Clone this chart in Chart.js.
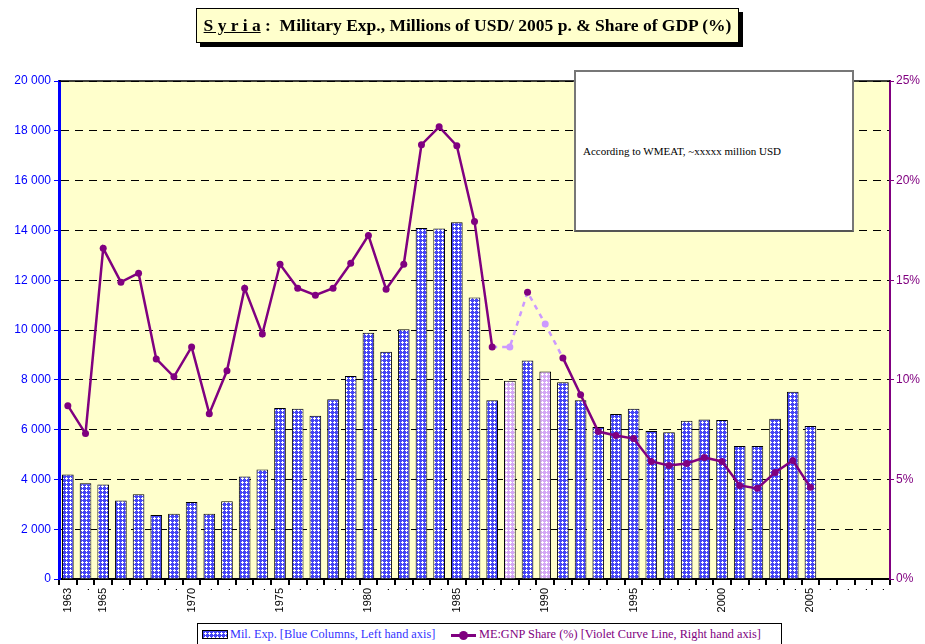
<!DOCTYPE html>
<html>
<head>
<meta charset="utf-8">
<script src="https://cdn.jsdelivr.net/npm/chart.js@4"></script>
<style>
  body { margin: 0; background: #fff; }
  #wrap { position: relative; width: 925px; height: 644px; overflow: hidden; }
  #title {
    position: absolute; left: 196px; top: 8px; width: 541px; height: 33px;
    background: #ffffcc; border: 1px solid #000; box-shadow: 4px 4px 0 #000;
    font: bold 17.5px "Liberation Serif", serif; text-align: center; line-height: 33px;
  }
  #note {
    position: absolute; left: 574px; top: 70px; width: 276px; height: 158px;
    background: #fff; border: 2px solid #777; border-bottom-color: #555;
    font: 11px "Liberation Serif", serif;
  }
  #note span { position: absolute; left: 7px; top: 73px; }
  #legend {
    position: absolute; left: 197px; top: 623px; width: 583px; height: 24px;
    background: #fff; border: 1px solid #000;
    font: 12.3px "Liberation Serif", serif;
  }
  .item { position: absolute; top: 3px; white-space: nowrap; }
  #sw1 { position: absolute; left: 4px; top: 6px; width: 24px; height: 7px; border: 1px solid #000; }
  #sw2 { position: absolute; left: 253px; top: 10px; width: 25px; height: 3px; background: #800080; }
  #sw2 i { position: absolute; left: 8px; top: -3px; width: 9px; height: 9px; border-radius: 50%; background: #800080; }
</style>
</head>
<body>
<div id="wrap">
  <canvas id="chart" width="925" height="644"></canvas>
  <div id="title"><u>S y r i a</u> :&nbsp; Military Exp., Millions of USD/ 2005 p. &amp; Share of GDP (%)</div>
  <div id="note"><span>According to WMEAT, ~xxxxx million USD</span></div>
  <div id="legend">
    <div id="sw1"></div>
    <span class="item" style="left:32px;color:#3333ff">Mil. Exp. [Blue Columns, Left hand axis]</span>
    <div id="sw2"><i></i></div>
    <span class="item" style="left:281px;color:#800080">ME:GNP Share (%) [Violet Curve Line, Right hand axis]</span>
  </div>
</div>
<script>
const years = []
for (let y = 1963; y <= 2009; y++) years.push(y)

const tickLabels = years.map(y => (y === 1963 || y % 5 === 0) && y <= 2005 ? String(y) : '.')

// military expenditure, millions USD (2005 prices)
const milExp = [4200, 3850, 3800, 3150, 3400, 2570, 2620, 3090, 2620, 3120,
  4120, 4400, 6870, 6840, 6560, 7220, 8150, 9890, 9130, 10030,
  14100, 14080, 14330, 11310, 7180, 7960, 8780, 8330, 7900, 7180,
  6100, 6630, 6840, 5940, 5890, 6360, 6410, 6390, 5340, 5340,
  6440, 7520, 6140, null, null, null, null]

// ME:GNP share (%)
const gdpShare = [8.7, 7.3, 16.6, 14.9, 15.35, 11.05, 10.15, 11.65, 8.3, 10.45,
  14.6, 12.3, 15.8, 14.6, 14.25, 14.6, 15.85, 17.25, 14.55, 15.8,
  21.8, 22.7, 21.75, 17.95, 11.65, 11.65, 14.4, 12.8, 11.1, 9.25,
  7.4, 7.2, 7.05, 5.9, 5.7, 5.8, 6.1, 5.9, 4.7, 4.55,
  5.35, 5.95, 4.6, null, null, null, null]

// years with estimated values (lighter colour)
const estimated = [1988, 1990]

const makePattern = (bg) => {
  const c = document.createElement('canvas')
  c.width = 4; c.height = 4
  const g = c.getContext('2d')
  g.fillStyle = bg
  g.fillRect(0, 0, 4, 4)
  g.fillStyle = '#ffffff'
  g.fillRect(2, 1, 1, 3)
  g.fillRect(1, 2, 3, 1)
  return c
}
const bluePat = makePattern('#4545f5')
const pinkPat = makePattern('#d4a8f5')
document.getElementById('sw1').style.background = `url(${bluePat.toDataURL()})`

const ctx = document.getElementById('chart').getContext('2d')
const blueFill = ctx.createPattern(bluePat, 'repeat')
const pinkFill = ctx.createPattern(pinkPat, 'repeat')

const plotBg = {
  id: 'plotBg',
  beforeDraw: (chart) => {
    const a = chart.chartArea
    const c = chart.ctx
    c.save()
    c.fillStyle = '#ffffcc'
    c.fillRect(a.left, a.top, a.right - a.left, a.bottom - a.top)
    c.restore()
  },
  afterDraw: (chart) => {
    const a = chart.chartArea
    const c = chart.ctx
    c.save()
    c.strokeStyle = '#000'
    c.lineWidth = 1.5
    c.beginPath()
    c.moveTo(a.left, a.top)
    c.lineTo(a.right, a.top)
    c.stroke()
    c.restore()
  }
}

const fmt = v => String(v).replace(/\B(?=(\d{3})+(?!\d))/g, ' ')
const light = '#cc99ff'
const purple = '#800080'

new Chart(ctx, {
  data: {
    labels: tickLabels,
    datasets: [
      {
        type: 'line',
        label: 'ME:GNP Share (%) [Violet Curve Line, Right hand axis]',
        data: gdpShare,
        yAxisID: 'y1',
        order: 0,
        borderColor: purple,
        borderWidth: 2.5,
        pointRadius: 3.5,
        pointHoverRadius: 3.5,
        pointBorderWidth: 0,
        pointBackgroundColor: years.map(y => estimated.includes(y) ? light : purple),
        segment: {
          borderColor: s => (s.p0DataIndex >= 24 && s.p1DataIndex <= 28) ? light : purple,
          borderDash: s => (s.p0DataIndex >= 24 && s.p1DataIndex <= 28) ? [5, 5] : undefined,
        },
      },
      {
        type: 'bar',
        label: 'Mil. Exp. [Blue Columns, Left hand axis]',
        data: milExp,
        yAxisID: 'y',
        order: 1,
        backgroundColor: years.map(y => estimated.includes(y) ? pinkFill : blueFill),
        borderColor: '#000',
        borderWidth: 1,
        barPercentage: 0.66,
        categoryPercentage: 1,
      },
    ],
  },
  options: {
    responsive: false,
    animation: false,
    layout: { padding: { top: 81, left: 0, right: 0, bottom: 0 } },
    plugins: {
      legend: { display: false },
      tooltip: { enabled: false },
    },
    scales: {
      x: {
        afterFit: (s) => { s.height = 65 },
        border: { color: '#000', width: 2 },
        grid: { drawOnChartArea: false, color: '#000', tickColor: '#000', lineWidth: 2, tickLength: 6 },
        ticks: {
          autoSkip: false, maxRotation: 90, minRotation: 90, padding: 3,
          color: '#000', font: { family: 'Liberation Sans', size: 11 },
        },
      },
      y: {
        position: 'left',
        min: 0, max: 20000,
        afterFit: (s) => { s.width = 59 },
        border: { color: '#0000ff', width: 3, dash: [8, 6] },
        grid: { color: '#000', lineWidth: 1, tickColor: '#0000ff', tickLength: 5, tickBorderDash: [] },
        ticks: {
          stepSize: 2000, padding: 3, color: '#0000ff',
          font: { family: 'Liberation Sans', size: 12 },
          callback: v => fmt(v),
        },
      },
      y1: {
        position: 'right',
        min: 0, max: 25,
        afterFit: (s) => { s.width = 35 },
        border: { color: purple, width: 2 },
        grid: { drawOnChartArea: false, color: purple, tickColor: purple, tickLength: 4 },
        ticks: {
          stepSize: 5, padding: 2, color: purple,
          font: { family: 'Liberation Sans', size: 12 },
          callback: v => v + '%',
        },
      },
    },
  },
  plugins: [plotBg],
})
</script>
</body>
</html>
